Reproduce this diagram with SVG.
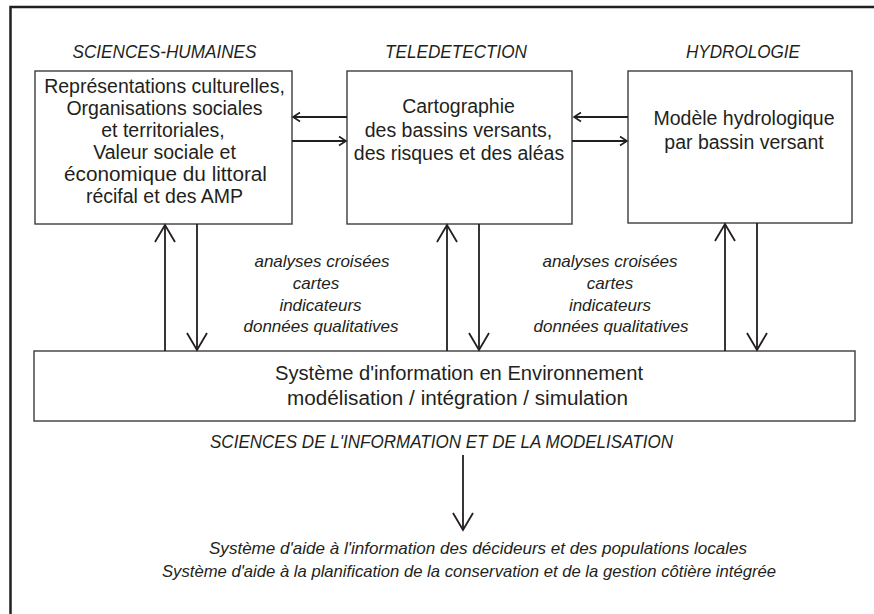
<svg xmlns="http://www.w3.org/2000/svg" width="874" height="614" viewBox="0 0 874 614">
<style>
.box{fill:#fff;stroke:#3c3c3c;stroke-width:1.4}
.t{font-family:"Liberation Sans",Arial,sans-serif;font-size:19.5px;fill:#231f20;text-anchor:middle}
.i{font-family:"Liberation Sans",Arial,sans-serif;font-size:17px;font-style:italic;fill:#231f20;text-anchor:middle}
.h{font-family:"Liberation Sans",Arial,sans-serif;font-size:18px;font-style:italic;fill:#231f20;text-anchor:middle}
.c{fill:none;stroke:#231f20;stroke-width:1.8}
</style>
<defs>
<marker id="big" viewBox="-20 -12 22 24" refX="0" refY="0" markerUnits="userSpaceOnUse" markerWidth="22" markerHeight="24" orient="auto">
<path d="M-17,-10 L0,0 L-17,10" fill="none" stroke="#231f20" stroke-width="1.8"/>
</marker>
<marker id="small" viewBox="-10 -7 12 14" refX="0" refY="0" markerUnits="userSpaceOnUse" markerWidth="12" markerHeight="14" orient="auto">
<path d="M-7,-4.5 L0,0 L-7,4.5" fill="none" stroke="#231f20" stroke-width="1.6"/>
</marker>
</defs>
<rect width="874" height="614" fill="#fff"/>
<rect x="10.5" y="7" width="900" height="640" fill="none" stroke="#231f20" stroke-width="2.5"/>

<g id="headers">
<text class="h" x="164.5" y="58" textLength="184" lengthAdjust="spacingAndGlyphs">SCIENCES-HUMAINES</text>
<text class="h" x="456" y="58" textLength="142" lengthAdjust="spacingAndGlyphs">TELEDETECTION</text>
<text class="h" x="743" y="58" textLength="114" lengthAdjust="spacingAndGlyphs">HYDROLOGIE</text>
</g>

<g id="node-sh">
<rect class="box" x="35" y="71" width="257" height="153"/>
<text class="t" x="164.5" y="93">Représentations culturelles,</text>
<text class="t" x="164.5" y="115">Organisations sociales</text>
<text class="t" x="163" y="137">et territoriales,</text>
<text class="t" x="164.5" y="159">Valeur sociale et</text>
<text class="t" x="165.5" y="181" textLength="203" lengthAdjust="spacingAndGlyphs">économique du littoral</text>
<text class="t" x="164.5" y="203">récifal et des AMP</text>
</g>

<g id="node-tel">
<rect class="box" x="347" y="71" width="225" height="153"/>
<text class="t" x="458.5" y="113">Cartographie</text>
<text class="t" x="458.5" y="136.5">des bassins versants,</text>
<text class="t" x="459" y="160">des risques et des aléas</text>
</g>

<g id="node-hyd">
<rect class="box" x="628" y="71" width="224" height="152"/>
<text class="t" x="744" y="125">Modèle hydrologique</text>
<text class="t" x="744" y="149">par bassin versant</text>
</g>

<g id="node-sie">
<rect class="box" x="34" y="351" width="821" height="70"/>
<text class="t" x="459" y="380" textLength="368" lengthAdjust="spacingAndGlyphs">Système d'information en Environnement</text>
<text class="t" x="457.5" y="405" textLength="341" lengthAdjust="spacingAndGlyphs">modélisation / intégration / simulation</text>
</g>

<g id="label-sim">
<text class="h" x="441.5" y="448" textLength="463" lengthAdjust="spacingAndGlyphs">SCIENCES DE L'INFORMATION ET DE LA MODELISATION</text>
</g>

<g id="labels-left">
<text class="i" x="322" y="267">analyses croisées</text>
<text class="i" x="316" y="289">cartes</text>
<text class="i" x="320.5" y="310.5">indicateurs</text>
<text class="i" x="321" y="332">données qualitatives</text>
</g>
<g id="labels-right">
<text class="i" x="610" y="267">analyses croisées</text>
<text class="i" x="610" y="289">cartes</text>
<text class="i" x="610" y="310.5">indicateurs</text>
<text class="i" x="611" y="332">données qualitatives</text>
</g>

<g id="output">
<text class="i" x="478" y="554" textLength="538" lengthAdjust="spacingAndGlyphs">Système d'aide à l'information des décideurs et des populations locales</text>
<text class="i" x="469" y="577" textLength="614" lengthAdjust="spacingAndGlyphs">Système d'aide à la planification de la conservation et de la gestion côtière intégrée</text>
</g>

<g id="connectors">
<line class="c" x1="347" y1="117" x2="293" y2="117" marker-end="url(#small)"/>
<line class="c" x1="292" y1="141" x2="346" y2="141" marker-end="url(#small)"/>
<line class="c" x1="628" y1="117" x2="574" y2="117" marker-end="url(#small)"/>
<line class="c" x1="572" y1="141" x2="627" y2="141" marker-end="url(#small)"/>
<line class="c" x1="165" y1="351" x2="165" y2="225" marker-end="url(#big)"/>
<line class="c" x1="197" y1="224" x2="197" y2="350" marker-end="url(#big)"/>
<line class="c" x1="447" y1="351" x2="447" y2="225" marker-end="url(#big)"/>
<line class="c" x1="479" y1="224" x2="479" y2="350" marker-end="url(#big)"/>
<line class="c" x1="725" y1="351" x2="725" y2="224" marker-end="url(#big)"/>
<line class="c" x1="757" y1="223" x2="757" y2="350" marker-end="url(#big)"/>
<line class="c" x1="463" y1="455" x2="463" y2="530" marker-end="url(#big)"/>
</g>
</svg>
